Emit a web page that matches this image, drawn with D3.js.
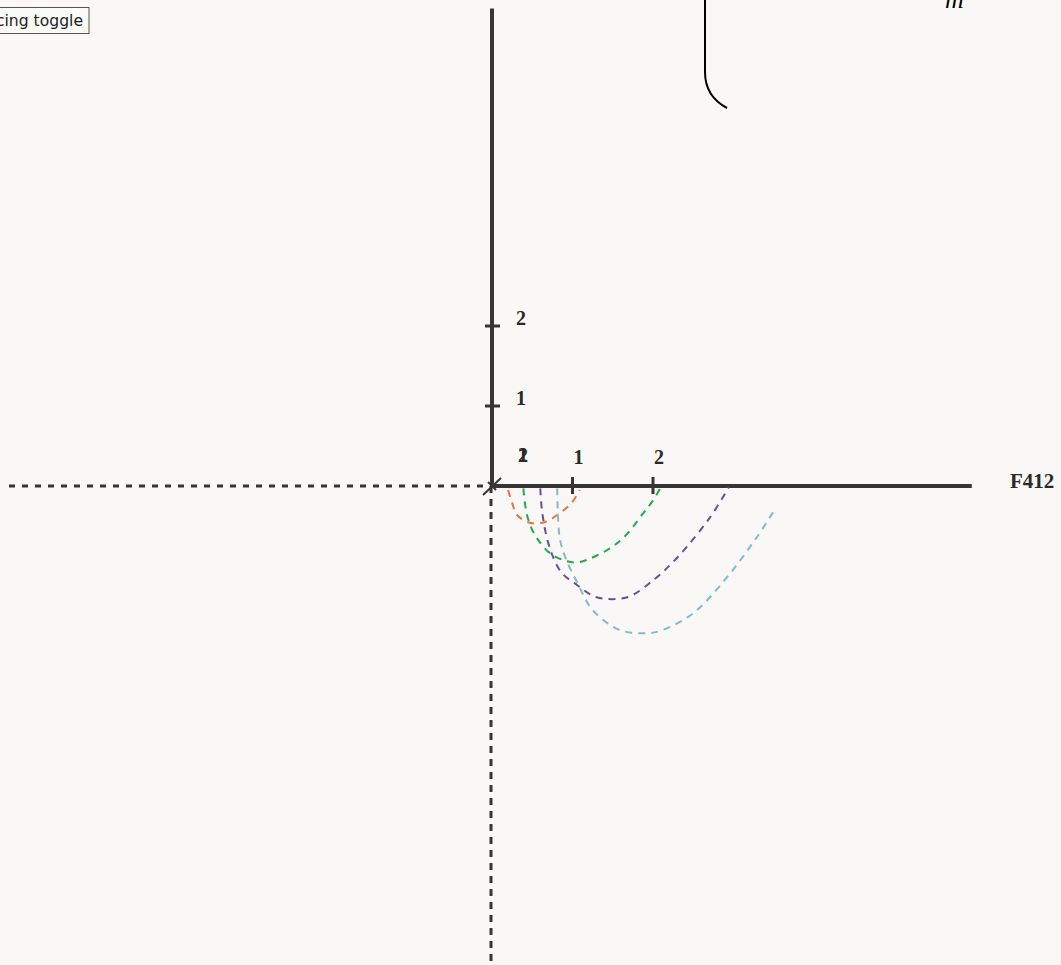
<!DOCTYPE html>
<html>
<head>
<meta charset="utf-8">
<script src="https://cdn.jsdelivr.net/npm/d3@7"></script>
<style>
body { margin: 0; background: #f9f8f6; overflow: hidden; }
</style>
</head>
<body>
<div id="chart"></div>
<script>
// curve values in plot units
const orangeCurve = [[0.2,-0.05],[0.25,-0.21],[0.31,-0.36],[0.47,-0.46],[0.66,-0.45],[0.84,-0.34],[0.99,-0.21],[1.09,-0.05]];
const greenCurve = [[0.39,-0.03],[0.43,-0.34],[0.5,-0.55],[0.6,-0.71],[0.72,-0.84],[0.93,-0.94],[1.09,-0.95],[1.43,-0.8],[1.63,-0.65],[1.88,-0.34],[2.0,-0.18],[2.09,-0.03]];
const purpleCurve = [[0.6,-0.03],[0.62,-0.3],[0.68,-0.64],[0.76,-0.89],[0.87,-1.09],[1.06,-1.24],[1.3,-1.39],[1.68,-1.39],[2.0,-1.18],[2.21,-0.99],[2.42,-0.76],[2.71,-0.39],[2.94,-0.02]];
const blueCurve = [[0.81,-0.03],[0.84,-0.64],[0.91,-0.89],[1.06,-1.21],[1.25,-1.55],[1.59,-1.8],[1.93,-1.84],[2.12,-1.8],[2.5,-1.59],[2.92,-1.14],[3.29,-0.64],[3.49,-0.33]];
const curveColors = ["#f0703a", "#1faa4c", "#6a4e96", "#86b8c8"];
const xTicks = [1, 2];
const yTicks = [1, 2];
const axisName = "F412";

const width = 1061, height = 965;

const svg = d3.select("#chart").append("svg")
  .attr("width", width)
  .attr("height", height);

// one unit is about 80px, origin near the middle
const xScale = d3.scaleLinear().domain([0, 1]).range([492, 572.5]);
const yScale = d3.scaleLinear().domain([0, 1]).range([486, 406]);

const axisCol = "#363636";

// dashed negative half-axes
svg.append("line")
  .attr("x1", xScale(-6)).attr("x2", xScale(0))
  .attr("y1", yScale(0)).attr("y2", yScale(0))
  .attr("stroke", axisCol).attr("stroke-width", 3)
  .attr("stroke-dasharray", "6,7");
svg.append("line")
  .attr("x1", xScale(0) - 1).attr("x2", xScale(0) - 1)
  .attr("y1", yScale(0)).attr("y2", height)
  .attr("stroke", axisCol).attr("stroke-width", 3)
  .attr("stroke-dasharray", "7,6");

// solid positive axes
svg.append("line")
  .attr("x1", xScale(0)).attr("x2", xScale(5.96))
  .attr("y1", yScale(0)).attr("y2", yScale(0))
  .attr("stroke", axisCol).attr("stroke-width", 4);
svg.append("line")
  .attr("x1", xScale(0)).attr("x2", xScale(0))
  .attr("y1", yScale(0)).attr("y2", yScale(5.97))
  .attr("stroke", axisCol).attr("stroke-width", 4);

// origin mark
svg.append("line")
  .attr("x1", xScale(0) - 9).attr("y1", yScale(0) + 9)
  .attr("x2", xScale(0) + 9).attr("y2", yScale(0) - 8)
  .attr("stroke", axisCol).attr("stroke-width", 2);
svg.append("line")
  .attr("x1", xScale(0) - 4).attr("y1", yScale(0) - 4)
  .attr("x2", xScale(0) + 4).attr("y2", yScale(0) + 4)
  .attr("stroke", axisCol).attr("stroke-width", 2);

// ticks
svg.selectAll(".xtick").data(xTicks).enter().append("line")
  .attr("x1", d => xScale(d)).attr("x2", d => xScale(d))
  .attr("y1", yScale(0) - 9).attr("y2", yScale(0) + 8)
  .attr("stroke", axisCol).attr("stroke-width", 3);
svg.selectAll(".ytick").data(yTicks).enter().append("line")
  .attr("x1", xScale(0) - 7).attr("x2", xScale(0) + 8)
  .attr("y1", d => yScale(d)).attr("y2", d => yScale(d))
  .attr("stroke", axisCol).attr("stroke-width", 3);

const labelFont = "'Liberation Serif', 'Times New Roman', serif";

svg.selectAll(".xlab").data(xTicks).enter().append("text")
  .attr("x", d => xScale(d) + 6)
  .attr("y", yScale(0) - 22)
  .attr("text-anchor", "middle")
  .style("font-family", labelFont).style("font-weight", "bold").style("font-size", "20px")
  .attr("fill", "#2a2a2a")
  .text(d => d);
svg.selectAll(".ylab").data(yTicks).enter().append("text")
  .attr("x", xScale(0) + 29)
  .attr("y", d => yScale(d) - 1)
  .attr("text-anchor", "middle")
  .style("font-family", labelFont).style("font-weight", "bold").style("font-size", "20px")
  .attr("fill", "#2a2a2a")
  .text(d => d);
// the two labels piled up near the origin
svg.selectAll(".olab").data(yTicks).enter().append("text")
  .attr("x", xScale(0) + 31)
  .attr("y", yScale(0) - 24)
  .attr("text-anchor", "middle")
  .style("font-family", labelFont).style("font-weight", "bold").style("font-size", "20px")
  .attr("fill", "#2a2a2a")
  .text(d => d);

svg.append("text")
  .attr("x", 1010).attr("y", 488)
  .style("font-family", labelFont).style("font-weight", "bold").style("font-size", "21px")
  .attr("fill", "#2a2a2a")
  .text(axisName);

// dashed curves
const line = d3.line()
  .x(d => xScale(d[0]))
  .y(d => yScale(d[1]))
  .curve(d3.curveCatmullRom);

[orangeCurve, greenCurve, purpleCurve, blueCurve].forEach((c, i) => {
  svg.append("path")
    .datum(c)
    .attr("d", line)
    .attr("fill", "none")
    .attr("stroke", curveColors[i])
    .attr("stroke-width", 2)
    .attr("stroke-dasharray", "7,6");
});

// bottom of a big bracket at the top
svg.append("path")
  .attr("d", "M705,0 L705,72 C705,88 712,100 727,108")
  .attr("fill", "none")
  .attr("stroke", "#000")
  .attr("stroke-width", 2);

svg.append("text")
  .attr("x", 945).attr("y", 8)
  .style("font-family", labelFont).style("font-style", "italic").style("font-size", "26px")
  .attr("fill", "#000")
  .text("m");

// toggle button, cut off at the left edge
svg.append("rect")
  .attr("x", -60).attr("y", 7.5)
  .attr("width", 149).attr("height", 26)
  .attr("fill", "#fbfbf8")
  .attr("stroke", "#555").attr("stroke-width", 1);
svg.append("text")
  .attr("x", 83).attr("y", 26)
  .attr("text-anchor", "end")
  .style("font-family", "'DejaVu Sans', Verdana, sans-serif").style("font-size", "15.6px")
  .attr("fill", "#222")
  .text("Tracing toggle");
</script>
</body>
</html>
